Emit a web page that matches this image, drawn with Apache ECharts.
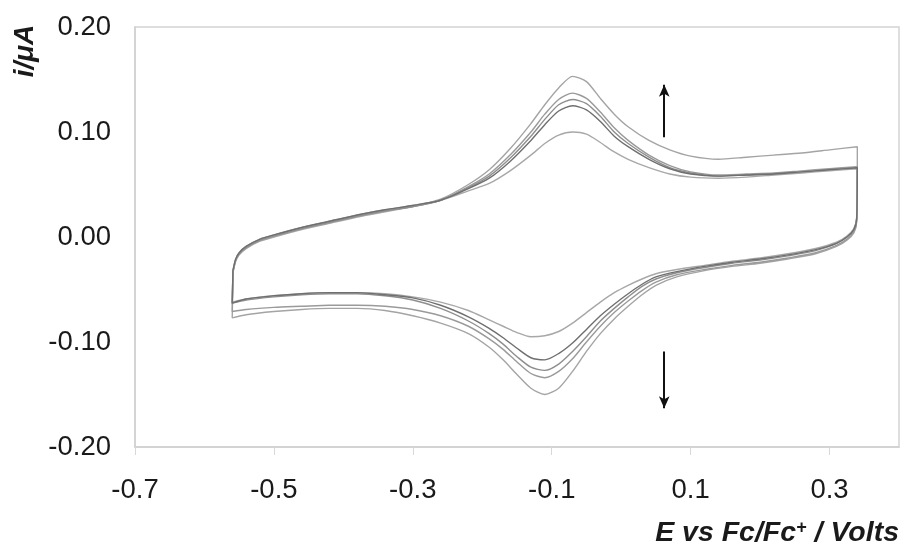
<!DOCTYPE html>
<html>
<head>
<meta charset="utf-8">
<script src="https://cdn.jsdelivr.net/npm/echarts@6/dist/echarts.min.js"></script>
<style>
  html, body { margin: 0; padding: 0; background: #ffffff; }
  #chart { width: 905px; height: 549px; }
</style>
</head>
<body>
<div id="chart"></div>
<script>
// Potential grid (V vs Fc/Fc+) for the anodic (forward) and cathodic (reverse) sweeps
const potentialForward = [-0.559, -0.555, -0.55, -0.54, -0.52, -0.50, -0.46, -0.42, -0.38, -0.34, -0.30, -0.26,
  -0.22, -0.19, -0.16, -0.13, -0.11, -0.09, -0.07, -0.05, -0.03, -0.01, 0.01, 0.04, 0.07, 0.10,
  0.14, 0.18, 0.22, 0.26, 0.30, 0.34];
const potentialReverse = [0.339, 0.335, 0.325, 0.31, 0.28, 0.24, 0.20, 0.16, 0.12, 0.08, 0.05, 0.03,
  0.01, -0.01, -0.03, -0.05, -0.07, -0.09, -0.11, -0.13, -0.15, -0.17, -0.19, -0.22, -0.26,
  -0.30, -0.34, -0.38, -0.42, -0.46, -0.50, -0.54, -0.56];

// Current (µA), one voltammogram per scan, largest first
const scan1Forward = [-0.034, -0.023, -0.017, -0.011, -0.004, 0.000, 0.007, 0.013, 0.019, 0.024, 0.029, 0.036,
  0.050, 0.064, 0.084, 0.108, 0.126, 0.142, 0.153, 0.148, 0.132, 0.117, 0.105, 0.092, 0.083, 0.077,
  0.074, 0.076, 0.078, 0.080, 0.083, 0.086];
const scan1Reverse = [0.014, 0.004, -0.003, -0.009, -0.016, -0.021, -0.025, -0.028, -0.032, -0.038, -0.046, -0.055,
  -0.066, -0.078, -0.092, -0.109, -0.128, -0.144, -0.150, -0.144, -0.131, -0.117, -0.105, -0.092, -0.082,
  -0.075, -0.070, -0.068, -0.068, -0.069, -0.071, -0.074, -0.077];

const scan2Forward = [-0.034, -0.022, -0.016, -0.010, -0.003, 0.001, 0.008, 0.014, 0.020, 0.025, 0.029, 0.035,
  0.048, 0.060, 0.078, 0.100, 0.117, 0.131, 0.137, 0.132, 0.119, 0.104, 0.092, 0.078, 0.068, 0.062,
  0.059, 0.060, 0.061, 0.063, 0.065, 0.067];
const scan2Reverse = [0.015, 0.005, -0.002, -0.008, -0.015, -0.020, -0.024, -0.027, -0.031, -0.036, -0.043, -0.051,
  -0.061, -0.072, -0.085, -0.100, -0.116, -0.128, -0.134, -0.130, -0.119, -0.107, -0.097, -0.085, -0.075,
  -0.069, -0.066, -0.065, -0.065, -0.066, -0.067, -0.069, -0.071];

const scan3Forward = [-0.033, -0.022, -0.016, -0.010, -0.003, 0.001, 0.008, 0.014, 0.020, 0.025, 0.029, 0.035,
  0.047, 0.058, 0.075, 0.096, 0.112, 0.126, 0.131, 0.127, 0.115, 0.100, 0.089, 0.076, 0.066, 0.061,
  0.058, 0.059, 0.060, 0.062, 0.064, 0.066];
const scan3Reverse = [0.017, 0.007, 0.000, -0.006, -0.013, -0.018, -0.022, -0.025, -0.029, -0.034, -0.040, -0.047,
  -0.057, -0.068, -0.080, -0.095, -0.109, -0.121, -0.127, -0.124, -0.114, -0.102, -0.092, -0.080, -0.068,
  -0.060, -0.056, -0.054, -0.054, -0.055, -0.057, -0.060, -0.063];

const scan4Forward = [-0.032, -0.021, -0.015, -0.009, -0.002, 0.002, 0.009, 0.015, 0.021, 0.026, 0.030, 0.035,
  0.046, 0.056, 0.072, 0.092, 0.107, 0.120, 0.125, 0.121, 0.110, 0.096, 0.086, 0.074, 0.065, 0.060,
  0.058, 0.059, 0.060, 0.062, 0.064, 0.066];
const scan4Reverse = [0.017, 0.007, 0.000, -0.006, -0.012, -0.017, -0.021, -0.024, -0.028, -0.033, -0.038, -0.045,
  -0.054, -0.064, -0.075, -0.088, -0.101, -0.111, -0.117, -0.115, -0.106, -0.096, -0.087, -0.076, -0.065,
  -0.058, -0.055, -0.053, -0.053, -0.054, -0.056, -0.059, -0.063];

const scan5Forward = [-0.032, -0.021, -0.015, -0.009, -0.002, 0.002, 0.009, 0.015, 0.021, 0.026, 0.030, 0.035,
  0.044, 0.051, 0.063, 0.078, 0.089, 0.097, 0.100, 0.098, 0.090, 0.081, 0.074, 0.066, 0.060, 0.057,
  0.056, 0.057, 0.059, 0.061, 0.063, 0.065];
const scan5Reverse = [0.018, 0.008, 0.001, -0.005, -0.011, -0.016, -0.020, -0.023, -0.027, -0.031, -0.035, -0.040,
  -0.046, -0.053, -0.062, -0.072, -0.082, -0.090, -0.094, -0.095, -0.091, -0.085, -0.079, -0.070, -0.062,
  -0.057, -0.054, -0.053, -0.053, -0.054, -0.056, -0.059, -0.062];

const scans = [
  { name: 'scan 1', fwd: scan1Forward, rev: scan1Reverse, color: '#a4a4a4' },
  { name: 'scan 2', fwd: scan2Forward, rev: scan2Reverse, color: '#9a9a9a' },
  { name: 'scan 3', fwd: scan3Forward, rev: scan3Reverse, color: '#8e8e8e' },
  { name: 'scan 4', fwd: scan4Forward, rev: scan4Reverse, color: '#6f6f6f' },
  { name: 'scan 5', fwd: scan5Forward, rev: scan5Reverse, color: '#a8a8a8' }
];

// Axis ticks
const xTicks = [-0.7, -0.5, -0.3, -0.1, 0.1, 0.3];

// Trend arrows (growth of the peak currents between scans)
const arrowPotential = 0.062;
const arrowUp = [0.095, 0.145];
const arrowDown = [-0.109, -0.163];

function loop(scan) {
  const pts = [];
  potentialForward.forEach((e, k) => pts.push([e, scan.fwd[k]]));
  potentialReverse.forEach((e, k) => pts.push([e, scan.rev[k]]));
  pts.push(pts[0]);
  return pts;
}

const series = scans.map((s, idx) => ({
  name: s.name,
  type: 'line',
  data: loop(s),
  showSymbol: false,
  smooth: 0.25,
  lineStyle: { color: s.color, width: 1.4 },
  z: idx === 3 ? 4 : 3,
  animation: false
}));

series.push({
  type: 'line',
  data: [],
  silent: true,
  markLine: {
    silent: true,
    animation: false,
    symbol: ['none', 'arrow'],
    symbolSize: [8, 12],
    label: { show: false },
    lineStyle: { color: '#111111', width: 2, type: 'solid' },
    data: [
      [{ coord: [arrowPotential, arrowUp[0]] }, { coord: [arrowPotential, arrowUp[1]] }],
      [{ coord: [arrowPotential, arrowDown[0]] }, { coord: [arrowPotential, arrowDown[1]] }]
    ]
  }
});

const chart = echarts.init(document.getElementById('chart'), null, { renderer: 'canvas' });
const FONT = 'Liberation Sans, Arial, sans-serif';
const labelFont = { fontFamily: FONT, fontSize: 27.5, color: '#1a1a1a' };

chart.setOption({
  backgroundColor: '#ffffff',
  animation: false,
  grid: {
    left: 135, right: 6, top: 27, bottom: 102,
    show: true, borderColor: '#d4d4d4', borderWidth: 1.5, backgroundColor: '#ffffff'
  },
  xAxis: {
    type: 'value', min: -0.7, max: 0.4,
    axisLine: { show: true, onZero: false, lineStyle: { color: '#d0d0d0', width: 1.5 } },
    axisTick: { show: true, length: 8, customValues: xTicks, lineStyle: { color: '#d8d8d8' } },
    splitLine: { show: false },
    axisLabel: Object.assign({ customValues: xTicks, margin: 29, formatter: v => v.toFixed(1) }, labelFont)
  },
  yAxis: {
    type: 'value', min: -0.2, max: 0.2, interval: 0.1,
    axisLine: { show: true, onZero: false, lineStyle: { color: '#d0d0d0', width: 1.5 } },
    axisTick: { show: false },
    splitLine: { show: false },
    axisLabel: Object.assign({ margin: 24, formatter: v => v.toFixed(2) }, labelFont)
  },
  graphic: [
    {
      type: 'text', x: 25, y: 51, rotation: Math.PI / 2,
      style: {
        text: 'i/μA', fontFamily: FONT, fontSize: 28,
        fontWeight: 'bold', fontStyle: 'italic', fill: '#1a1a1a', align: 'center', verticalAlign: 'middle'
      }
    },
    {
      type: 'text', right: 6, top: 519,
      style: {
        text: '{t|E vs Fc/Fc}{s|+}{t| / Volts}',
        rich: {
          t: { fontFamily: FONT, fontSize: 28.5, fontWeight: 'bold', fontStyle: 'italic', fill: '#1a1a1a' },
          s: { fontFamily: FONT, fontSize: 18, fontWeight: 'bold', fontStyle: 'italic', fill: '#1a1a1a', verticalAlign: 'top', padding: [0, 0, 10, 0] }
        }
      }
    }
  ],
  series: series
});
</script>
</body>
</html>
